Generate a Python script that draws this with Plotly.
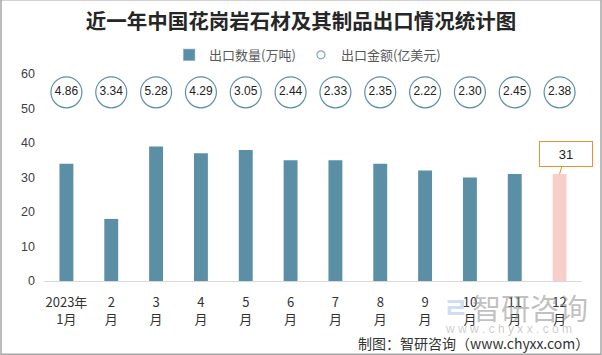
import plotly.graph_objects as go

months = ["2023年<br>1月", "2<br>月", "3<br>月", "4<br>月", "5<br>月", "6<br>月",
          "7<br>月", "8<br>月", "9<br>月", "10<br>月", "11<br>月", "12<br>月"]
volume = [34, 18, 39, 37, 38, 35, 35, 34, 32, 30, 31, 31]
amount = [4.86, 3.34, 5.28, 4.29, 3.05, 2.44, 2.33, 2.35, 2.22, 2.30, 2.45, 2.38]
circle_level = 54.7

bar_colors = ["#5B8FA6"] * (len(months) - 1) + ["#F8CFC8"]

fig = go.Figure()
fig.add_trace(go.Bar(
    x=months, y=volume, name="出口数量(万吨)",
    marker=dict(color=bar_colors, line=dict(width=0)),
    width=0.31, showlegend=False,
))
# legend proxies
fig.add_trace(go.Bar(x=[None], y=[None], name="出口数量(万吨)",
                     marker=dict(color="#5B8FA6")))
fig.add_trace(go.Scatter(x=[None], y=[None], mode="markers", name="出口金额(亿美元)",
                         marker=dict(symbol="circle-open", size=8, color="#7FA7BC",
                                     line=dict(width=1.2))))
fig.add_trace(go.Scatter(
    x=months, y=[circle_level] * len(months), mode="markers",
    marker=dict(symbol="circle", size=31, color="white",
                line=dict(color="#5B8FA6", width=1.2)),
    showlegend=False, hoverinfo="skip",
))
fig.add_trace(go.Scatter(
    x=months, y=[circle_level] * len(months), mode="text",
    text=[f"{v:.2f}" for v in amount],
    textfont=dict(family="Liberation Sans, Arial", size=12, color="#222222"),
    textposition="middle center", showlegend=False, hoverinfo="skip",
))

fig.add_annotation(
    x=months[-1], y=volume[-1], text=str(volume[-1]),
    showarrow=True, arrowhead=0, arrowwidth=1, arrowcolor="#E8912D",
    ax=6, ay=-20, bordercolor="#E8912D", borderwidth=1, borderpad=3,
    bgcolor="white", width=46, height=18,
    font=dict(family="Liberation Sans, Arial", size=13, color="#222222"),
)

# watermark
fig.add_annotation(xref="paper", yref="paper", x=(530 - 44) / 538, y=(281 - 307) / 206,
                   xanchor="center", yanchor="middle",
                   text="智研咨询", showarrow=False,
                   font=dict(family="Noto Sans CJK SC", size=29, color="rgba(140,140,140,0.55)"))
fig.add_annotation(xref="paper", yref="paper", x=(456 - 44) / 538, y=(281 - 307) / 206,
                   xanchor="center", yanchor="middle",
                   text="<b>ㄹ</b>", showarrow=False,
                   font=dict(family="Noto Sans CJK KR", size=28, color="rgba(120,160,210,0.35)"))
fig.add_annotation(xref="paper", yref="paper", x=(508 - 44) / 538, y=(281 - 329) / 206,
                   xanchor="center", yanchor="middle",
                   text="w w w . c h y x x . c o m", showarrow=False,
                   font=dict(family="Liberation Sans, Arial", size=12, color="rgba(160,160,160,0.55)"))
# source
fig.add_annotation(xref="paper", yref="paper", x=(591 - 44) / 538, y=(281 - 343) / 206,
                   xanchor="right", yanchor="middle",
                   text="制图：智研咨询（www.chyxx.com）", showarrow=False,
                   font=dict(family="Noto Sans CJK SC", size=14, color="#333333"))

# outer border
fig.add_shape(type="rect", xref="paper", yref="paper",
              x0=(1 - 44) / 538, x1=(601 - 44) / 538,
              y0=(281 - 354) / 206, y1=(281 - 1) / 206,
              line=dict(color="#A6A6A6", width=1.5))

fig.update_layout(
    width=602, height=355,
    margin=dict(l=44, r=20, t=74, b=74),
    paper_bgcolor="white", plot_bgcolor="white",
    title=dict(text="<b>近一年中国花岗岩石材及其制品出口情况统计图</b>",
               x=0.5, xanchor="center", y=1 - 22 / 355, yanchor="middle",
               font=dict(family="Noto Sans CJK SC", size=20.5, color="#262626")),
    legend=dict(orientation="h", x=0.49, xanchor="center", y=(281 - 56) / 206, yanchor="middle",
                font=dict(family="Noto Sans CJK SC", size=13, color="#595959"),
                itemwidth=30, tracegroupgap=0),
    bargap=0.69,
    xaxis=dict(showline=True, linecolor="#D9D9D9", linewidth=1, ticks="",
               range=[-0.5, len(months) - 0.5], autorange=False,
               showgrid=False, ticklabelstandoff=9,
               tickfont=dict(family="Noto Sans CJK SC", size=13, color="#333333")),
    yaxis=dict(range=[0, 60], dtick=10, showgrid=False, zeroline=False,
               showline=False, ticks="", ticklabelstandoff=8,
               tickfont=dict(family="Liberation Sans, Arial", size=12.5, color="#404040")),
)

fig.write_html("out.html", config={"displayModeBar": False},
               post_script="document.body.style.margin='0';document.body.style.padding='0';")
